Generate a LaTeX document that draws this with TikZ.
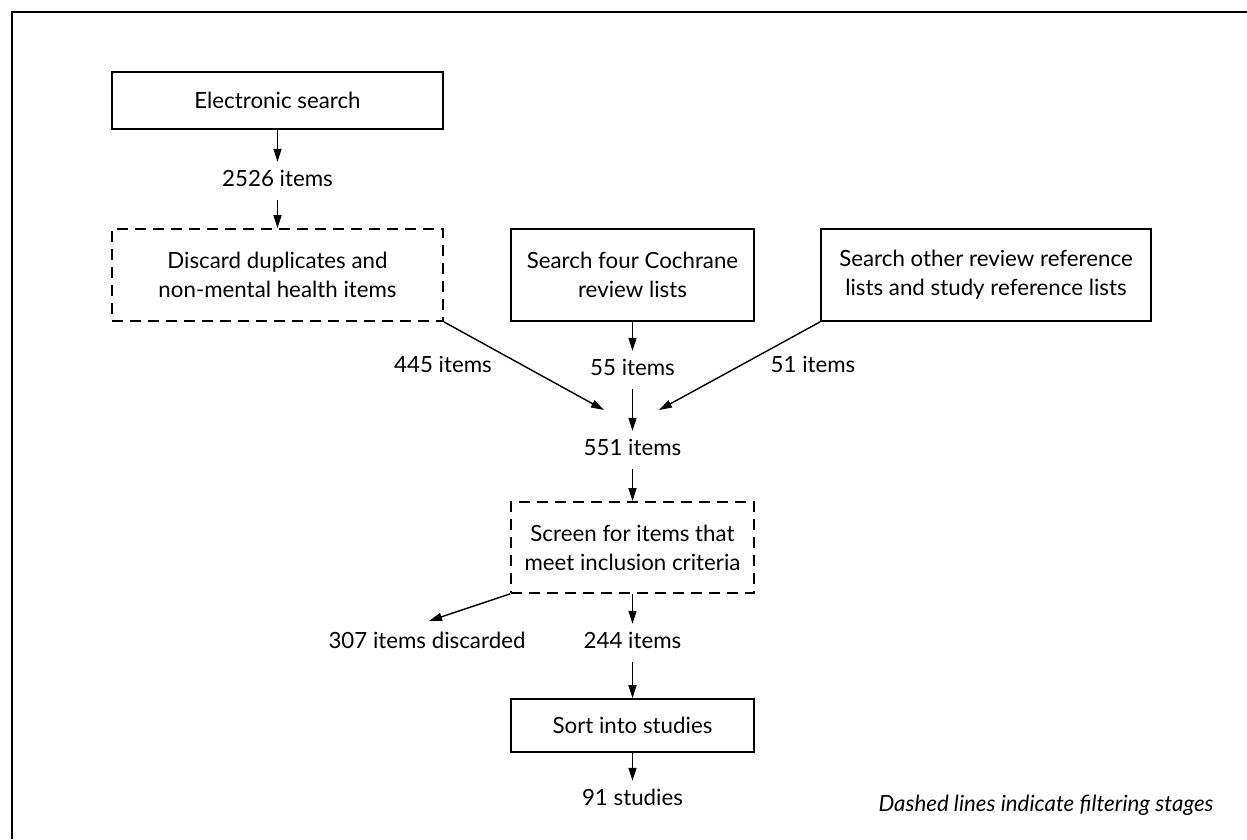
\documentclass[tikz,border=0pt]{standalone}
\usepackage{fontspec}
\setmainfont{Lato}
\usetikzlibrary{arrows.meta}
\begin{document}
\begin{tikzpicture}[x=1pt,y=-1pt,
  every node/.style={font=\fontsize{22.3}{29}\selectfont},
  box/.style={draw=black, line width=1.7pt, align=center, inner sep=0pt},
  filt/.style={box, dash pattern=on 11pt off 7pt},
  lbl/.style={inner xsep=2pt, inner ysep=10pt, text height=14pt, text depth=4pt},
  arr/.style={line width=1.4pt, -{Triangle[length=13pt,width=8pt]}}
]
\useasboundingbox (0,0) rectangle (1247,839);
\draw[line width=2.2pt] (12,839) -- (12,12) -- (1247,12);

\node[box, minimum width=331pt, minimum height=57pt] (es) at (277.5,100.5) {Electronic search};
\node[filt, minimum width=331pt, minimum height=92pt] (dd) at (277.5,275) {Discard duplicates and\\non-mental health items};
\node[box, minimum width=243pt, minimum height=92pt] (co) at (632.5,275) {Search four Cochrane\\review lists};
\node[box, minimum width=330pt, minimum height=92pt] (ot) at (986,275) {Search other review reference\\lists and study reference lists};
\node[filt, minimum width=243pt, minimum height=91pt] (sc) at (632.5,547.5) {Screen for items that\\meet inclusion criteria};
\node[box, minimum width=243pt, minimum height=53pt] (so) at (632.5,725.5) {Sort into studies};

\node[lbl] (n2526) at (277.5,181) {2526 items};
\node[lbl] (n445) at (443,367) {445 items};
\node[lbl] (n55) at (632.5,370) {55 items};
\node[lbl] (n51) at (813,367) {51 items};
\node[lbl] (n551) at (632.5,450) {551 items};
\node[lbl] (n307) at (427,643) {307 items discarded};
\node[lbl] (n244) at (632.5,643) {244 items};
\node[lbl] (n91) at (632.5,800) {91 studies};
\node[font=\fontsize{22.3}{29}\selectfont\itshape] (note) at (1046,805) {Dashed lines indicate filtering stages};

\coordinate (m1) at (604,410);
\coordinate (m2) at (659,410);
\coordinate (d1) at (429,621);

\draw[arr] (es) -- (n2526);
\draw[arr] (n2526) -- (dd);
\draw[arr] (co) -- (n55);
\draw[arr] (n55) -- (n551);
\draw[arr] (dd.south east) -- (m1);
\draw[arr] (ot.south west) -- (m2);
\draw[arr] (n551) -- (sc);
\draw[arr] (sc.south west) -- (d1);
\draw[arr] (sc) -- (n244);
\draw[arr] (n244) -- (so);
\draw[arr] (so) -- (n91);
\end{tikzpicture}
\end{document}
